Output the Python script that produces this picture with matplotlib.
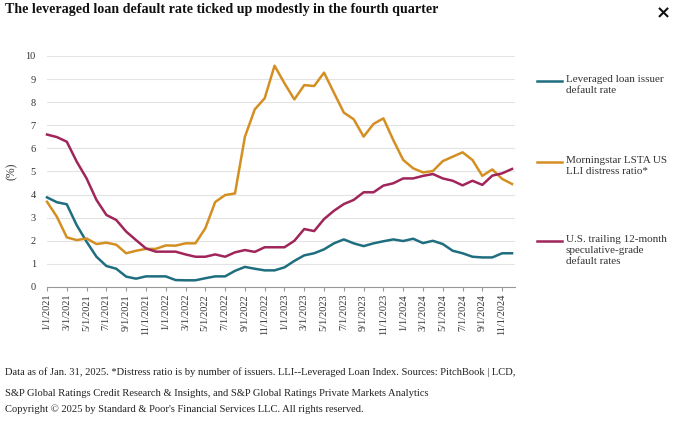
import pandas as pd
import matplotlib
matplotlib.use("Agg")
import matplotlib.pyplot as plt

plt.rcParams['font.family'] = ['Liberation Serif', 'DejaVu Serif']

# monthly values, Jan 2021 - Dec 2024
months = pd.date_range("2021-01-01", "2024-12-01", freq="MS")

lev_loan = [3.88, 3.67, 3.58, 2.68, 1.96, 1.31, 0.91, 0.79, 0.45, 0.36, 0.46, 0.46,
            0.46, 0.30, 0.29, 0.29, 0.38, 0.46, 0.46, 0.70, 0.87, 0.79, 0.72, 0.72,
            0.85, 1.13, 1.37, 1.46, 1.63, 1.89, 2.06, 1.89, 1.77, 1.89, 1.98, 2.06,
            1.99, 2.09, 1.90, 2.00, 1.86, 1.57, 1.46, 1.31, 1.28, 1.28, 1.46, 1.46]

distress = [3.69, 3.04, 2.15, 2.03, 2.10, 1.86, 1.92, 1.83, 1.46, 1.57, 1.65, 1.65,
            1.80, 1.79, 1.89, 1.89, 2.54, 3.68, 3.98, 4.05, 6.50, 7.69, 8.17, 9.58,
            8.82, 8.12, 8.74, 8.70, 9.28, 8.41, 7.55, 7.26, 6.51, 7.06, 7.30, 6.36,
            5.50, 5.14, 4.96, 5.02, 5.45, 5.64, 5.83, 5.50, 4.81, 5.09, 4.68, 4.46]

spec_grade = [6.60, 6.49, 6.29, 5.43, 4.70, 3.77, 3.12, 2.90, 2.40, 2.03, 1.67, 1.53,
              1.53, 1.53, 1.41, 1.31, 1.31, 1.41, 1.31, 1.50, 1.60, 1.52, 1.72, 1.72,
              1.72, 2.00, 2.51, 2.42, 2.94, 3.30, 3.59, 3.77, 4.10, 4.10, 4.39, 4.49,
              4.70, 4.70, 4.81, 4.89, 4.70, 4.60, 4.40, 4.60, 4.42, 4.82, 4.92, 5.11]

series_names = ["Leveraged loan issuer\ndefault rate",
                "Morningstar LSTA US\nLLI distress ratio*",
                "U.S. trailing 12-month\nspeculative-grade\ndefault rates"]
colors = ["#1f6e7f", "#d48f22", "#a0255a"]

tick_pos = list(range(0, len(months), 2))
tick_labels = [f"{d.month}/1/{d.year}" for d in months[::2]]

fig = plt.figure(figsize=(6.8, 4.23), dpi=100)
ax = fig.add_axes([47 / 680, 1 - 287 / 423, 468 / 680, 231 / 423])

x = list(range(len(months)))
for vals, c in zip([lev_loan, distress, spec_grade], colors):
    ax.plot(x, vals, color=c, lw=1.8, clip_on=False, solid_joinstyle="round")

ax.set_xlim(0, 47.3)
ax.set_ylim(0, 10)
ax.set_yticks(range(0, 11))
ax.yaxis.grid(True, color="#e3e3e3", lw=0.8)
ax.set_axisbelow(True)
for s in ["top", "right", "left"]:
    ax.spines[s].set_visible(False)
ax.spines["bottom"].set_color("#999999")
ax.tick_params(axis="y", length=0, labelsize=7.5, colors="#333333", pad=8)
ax.set_xticks(tick_pos)
ax.set_xticklabels(tick_labels, rotation=90, fontsize=7.5)
ax.tick_params(axis="x", length=3, color="#999999", labelcolor="#333333", pad=2)
ax.set_ylabel("(%)", fontsize=8.5, color="#333333", labelpad=6)

# legend on the right
leg_y = [81, 162, 241]
for name, c, yy in zip(series_names, colors, leg_y):
    fig.add_artist(plt.Line2D([537 / 680, 562 / 680], [1 - yy / 423] * 2,
                              color=c, lw=1.8))
    fig.text(566 / 680, 1 - (yy - 6.5) / 423, name, fontsize=8, va="top",
             color="#333333", linespacing=1.3)

fig.text(5 / 680, 1 - 9 / 423, "The leveraged loan default rate ticked up modestly in the fourth quarter",
         fontsize=10.1, fontweight="bold", va="center", color="#111111")
fig.text(663 / 680, 1 - 13 / 423, "\u00d7", fontsize=13, fontweight="bold",
         ha="center", va="center", family="DejaVu Sans", color="#111111")

notes = ["Data as of Jan. 31, 2025. *Distress ratio is by number of issuers. LLI--Leveraged Loan Index. Sources: PitchBook | LCD,",
         "S&P Global Ratings Credit Research & Insights, and S&P Global Ratings Private Markets Analytics",
         "Copyright \u00a9 2025 by Standard & Poor's Financial Services LLC. All rights reserved."]
for n, yy in zip(notes, [372, 393, 409]):
    fig.text(5 / 680, 1 - yy / 423, n, fontsize=7.6, va="center", color="#222222")

fig.savefig("out.png", dpi=100)
